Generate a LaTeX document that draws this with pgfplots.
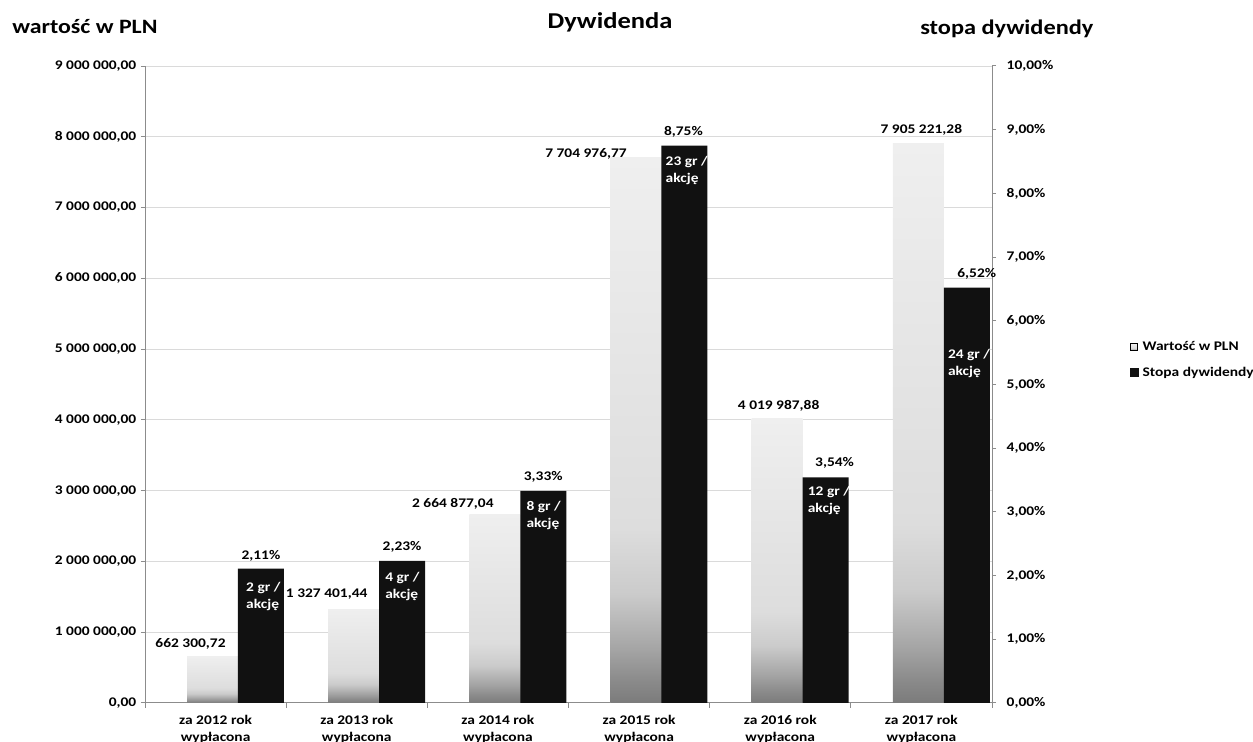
\documentclass[border=0pt]{standalone}
\usepackage{pgfplots}
\pgfplotsset{compat=1.18}
\usepackage{pgfplotstable}
\usepackage{fontspec}
\setmainfont{Carlito}[FakeStretch=1.17]

\definecolor{barblack}{HTML}{111111}
\definecolor{axisgray}{HTML}{8C8C8C}
\definecolor{gridgray}{HTML}{DADADA}
\definecolor{sh0}{HTML}{7B7B7B}
\definecolor{sh1}{HTML}{8A8A8A}
\definecolor{sh2}{HTML}{A5A5A5}
\definecolor{sh3}{HTML}{CBCBCB}
\definecolor{sh4}{HTML}{DDDDDD}
\definecolor{sh5}{HTML}{EFEFEF}

% light bars: grey at the foot, fading to near white above the lower third
\pgfdeclareverticalshading{barshade}{100bp}{%
  color(0bp)=(sh0); color(25bp)=(sh0); color(27bp)=(sh1);
  color(30bp)=(sh2); color(35bp)=(sh3); color(41bp)=(sh4);
  color(75bp)=(sh5); color(100bp)=(sh5)}

\newcommand\lblfont{\bfseries\fontsize{9.9}{12.75}\selectfont}

% dividend amount in PLN; dx/dy place each amount label from the top of its group (pt)
\pgfplotstableread[col sep=semicolon]{
x;val;lab;dx;dy
0;662300.72;662 300,72;-18.8;9
1;1327401.44;1 327 401,44;-22.55;11.25
2;2664877.04;2 664 877,04;-33.8;8.25
3;7704976.77;7 704 976,77;-39.8;3
4;4019987.88;4 019 987,88;-1.2;9.75
5;7905221.28;7 905 221,28;-0.05;10.5
}\wartosc

% dividend yield in percent, with the amount per share written inside each bar
\pgfplotstableread[col sep=semicolon]{
x;val;lab;dx;dy;inner;ix;iy
0;2.11;2,11\%;34;9.75;2 gr /\\akcję;22.75;-9.75
1;2.23;2,23\%;34;10.5;4 gr /\\akcję;21.25;-8.25
2;3.33;3,33\%;34;10.5;8 gr /\\akcję;21.25;-7.5
3;8.75;8,75\%;33.25;10.5;23 gr /\\akcję;19.75;-7.5
4;3.54;3,54\%;40.75;11.25;12 gr /\\akcję;20.5;-6
5;6.52;6,52\%;41.5;10.5;24 gr /\\akcję;19.75;-45.75
}\stopa

\pgfplotsset{
  common/.style={
    at={(108.75pt,29.25pt)}, anchor=south west,
    scale only axis, width=635.25pt, height=477.75pt,
    xmin=-0.5, xmax=5.5,
    scaled y ticks=false,
    tick align=outside,
    major tick length=3pt,
    axis line style={axisgray, line width=0.75pt},
    tick style={axisgray, line width=0.75pt},
    tick label style={font=\lblfont},
  },
}

\begin{document}
\begin{tikzpicture}
\useasboundingbox (0,0) rectangle (939.75pt,556.5pt);

% left axis: amount in PLN
\begin{axis}[common,
  axis x line*=bottom, axis y line*=left,
  ymin=0, ymax=9000000,
  ytick={0,1000000,2000000,3000000,4000000,5000000,6000000,7000000,8000000,9000000},
  yticklabels={{0,00},{1 000 000,00},{2 000 000,00},{3 000 000,00},{4 000 000,00},
    {5 000 000,00},{6 000 000,00},{7 000 000,00},{8 000 000,00},{9 000 000,00}},
  ymajorgrids, grid style={gridgray, line width=0.75pt},
  xtick={0,...,5},
  xticklabels={{za 2012 rok\\wypłacona},{za 2013 rok\\wypłacona},{za 2014 rok\\wypłacona},
    {za 2015 rok\\wypłacona},{za 2016 rok\\wypłacona},{za 2017 rok\\wypłacona}},
  xticklabel style={align=center, yshift=-2.5pt},
  major x tick style={draw=none},
  minor xtick={-0.5,0.5,...,5.5},
  minor tick length=3.75pt,
  minor x tick style={axisgray, line width=0.75pt},
]
% one path per bar, so that every bar carries its own shading
\pgfplotsinvokeforeach{0,...,5}{
\addplot[ybar, bar width=38.25pt, bar shift=-2.3pt, draw=none, shade, shading=barshade,
  forget plot,
  x filter/.expression={abs(x-#1)<0.3 ? x : nan},
  nodes near coords, point meta=explicit symbolic,
  visualization depends on={\thisrow{dx}\as\ldx},
  visualization depends on={\thisrow{dy}\as\ldy},
  every node near coord/.append style={anchor=center, font=\lblfont, text=black,
    xshift=\ldx pt, yshift=\ldy pt},
] table[x=x, y=val, meta=lab] {\wartosc};
}
\end{axis}

% right axis: dividend yield
\begin{axis}[common,
  axis x line=none, axis y line*=right,
  ymin=0, ymax=10,
  ytick={0,...,10},
  yticklabels={{0,00\%},{1,00\%},{2,00\%},{3,00\%},{4,00\%},{5,00\%},
    {6,00\%},{7,00\%},{8,00\%},{9,00\%},{10,00\%}},
  yticklabel style={xshift=4.5pt},
  legend style={at={(1.163,0.539)}, anchor=west, draw=none, fill=none,
    font=\lblfont, row sep=7pt, inner sep=0pt,
    nodes={inner xsep=3pt}},
  legend cell align=left,
]
\addplot[ybar, bar width=34.5pt, bar shift=34pt, draw=none, fill=barblack,
  forget plot,
  nodes near coords, point meta=explicit symbolic,
  visualization depends on={\thisrow{dx}\as\ldx},
  visualization depends on={\thisrow{dy}\as\ldy},
  every node near coord/.append style={anchor=center, font=\lblfont, text=black,
    xshift=\ldx pt, yshift=\ldy pt},
] table[x=x, y=val, meta=lab] {\stopa};

\addplot[ybar, bar width=34.5pt, bar shift=34pt, draw=none, fill=none,
  forget plot,
  nodes near coords, point meta=explicit symbolic,
  visualization depends on={\thisrow{ix}\as\lix},
  visualization depends on={\thisrow{iy}\as\liy},
  every node near coord/.append style={anchor=north west, align=left, inner sep=0pt,
    font=\lblfont, text=white, xshift=\lix pt, yshift=\liy pt},
] table[x=x, y=val, meta=inner] {\stopa};

\addlegendimage{legend image code/.code={\shade[shading=barshade] (0pt,-2.6pt) rectangle (5.25pt,2.6pt);}}
\addlegendentry{Wartość w PLN}
\addlegendimage{legend image code/.code={\fill[barblack] (0pt,-2.9pt) rectangle (5.8pt,2.9pt);}}
\addlegendentry{Stopa dywidendy}
\end{axis}

\node[anchor=base west, inner sep=0pt, font=\bfseries\fontsize{15.3}{18}\selectfont] at (9pt,531pt) {wartość w PLN};
\node[anchor=base, inner sep=0pt, font=\bfseries\fontsize{17}{20}\selectfont] at (457.5pt,534.75pt) {Dywidenda};
\node[anchor=base west, inner sep=0pt, font=\bfseries\fontsize{15.6}{18}\selectfont] at (690pt,530.25pt) {stopa dywidendy};
\end{tikzpicture}
\end{document}
